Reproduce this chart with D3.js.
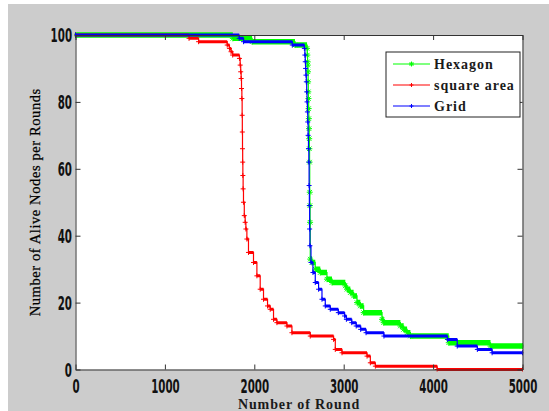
<!DOCTYPE html>
<html>
<head>
<meta charset="utf-8">
<style>
  body { margin: 0; background: #fff; }
  svg { display: block; }
</style>
</head>
<body>
<svg width="549" height="411"></svg>
<script src="https://d3js.org/d3.v7.min.js"></script>
<script>
// ---- data ----
var xTicks = [0, 1000, 2000, 3000, 4000, 5000];
var yTicks = [0, 20, 40, 60, 80, 100];
var seriesNames = ["Hexagon", "square area", "Grid"];

var hexRounds = [0, 1760, 1975, 2455, 2590, 2593, 2596, 2598, 2600, 2602, 2604, 2606, 2608, 2610, 2612, 2614, 2616, 2618, 2620, 2622, 2624, 2626, 2645, 2682, 2738, 2813, 2869, 3018, 3037, 3074, 3111, 3149, 3186, 3223, 3429, 3447, 3634, 3671, 3709, 3746, 4175, 4642, 5000];
var hexAlive  = [100, 99, 98, 97, 96, 94, 92, 91, 89, 86, 83, 81, 78, 75, 72, 69, 66, 62, 53, 49, 44, 33, 32, 30, 29, 27, 26, 25, 24, 23, 22, 20, 19, 17, 15, 14, 13, 12, 11, 10, 8, 7, 7];

var sqRounds = [0, 1270, 1377, 1697, 1722, 1740, 1758, 1834, 1842, 1848, 1853, 1857, 1861, 1864, 1866, 1868, 1870, 1872, 1875, 1879, 1888, 1898, 1906, 1917, 1935, 1991, 2029, 2066, 2103, 2148, 2178, 2215, 2253, 2365, 2421, 2626, 2887, 2906, 2981, 3261, 3298, 3354, 4045, 5000];
var sqAlive  = [100, 99, 98, 97, 96, 95, 94, 93, 91, 89, 87, 84, 81, 76, 71, 66, 62, 58, 54, 50, 46, 44, 42, 39, 35, 32, 28, 24, 21, 19, 18, 15, 14, 13, 11, 10, 9, 6, 5, 4, 2, 1, 0, 0];

var gridRounds = [0, 1831, 1880, 2425, 2560, 2566, 2570, 2574, 2578, 2582, 2586, 2590, 2594, 2598, 2602, 2606, 2610, 2613, 2616, 2619, 2622, 2634, 2656, 2682, 2719, 2757, 2794, 2850, 2940, 3010, 3030, 3090, 3140, 3190, 3250, 3450, 4160, 4270, 4495, 4660, 5000];
var gridAlive  = [100, 99, 98, 97, 96, 94, 92, 90, 88, 86, 83, 80, 77, 74, 70, 66, 62, 55, 49, 42, 37, 32, 29, 26, 24, 21, 19, 18, 17, 16, 15, 14, 13, 12, 11, 10, 9, 7, 6, 5, 5];

var colors = ["#00ff00", "#ff0000", "#0000ff"];

var series = [
  {name: seriesNames[0], rounds: hexRounds, alive: hexAlive, color: colors[0], band: 5.5, marker: "star"},
  {name: seriesNames[1], rounds: sqRounds, alive: sqAlive, color: colors[1], band: 3, marker: "plus"},
  {name: seriesNames[2], rounds: gridRounds, alive: gridAlive, color: colors[2], band: 3, marker: "plus"}
];

var svg = d3.select("svg");
var W = 549, H = 411;
var margin = {left: 75.5, right: 26.5, top: 35, bottom: 41.5};
var pw = W - margin.left - margin.right, ph = H - margin.top - margin.bottom;

// figure background (MATLAB grey)
svg.append("rect").attr("x", 8).attr("y", 4).attr("width", W - 8).attr("height", H - 4).attr("fill", "#cccccc");

var g = svg.append("g").attr("transform", "translate(" + margin.left + "," + margin.top + ")");
g.append("rect").attr("width", pw).attr("height", ph).attr("fill", "#fff");

var x = d3.scaleLinear().domain([0, 5000]).range([0, pw]);
var y = d3.scaleLinear().domain([0, 100]).range([ph, 0]);

function markerPath(type, s) {
  var p = "M" + (-s) + ",0H" + s + "M0," + (-s) + "V" + s;
  if (type === "star") {
    var d = s * 0.75;
    p += "M" + (-d) + "," + (-d) + "L" + d + "," + d + "M" + (-d) + "," + d + "L" + d + "," + (-d);
  }
  return p;
}

g.append("clipPath").attr("id", "clip").append("rect")
  .attr("x", -1).attr("y", -4).attr("width", pw + 2).attr("height", ph + 6);

var plot = g.append("g").attr("clip-path", "url(#clip)");

series.forEach(function(s) {
  var pts = s.rounds.map(function(r, i) { return [r, s.alive[i]]; });
  var sg = plot.append("g");
  // dense markers on plateaus show as a thick band
  var segs = pts.slice(0, -1).map(function(p, i) { return [p, pts[i + 1]]; });
  sg.selectAll("line.band").data(segs).join("line")
    .attr("x1", function(d) { return x(d[0][0]); })
    .attr("x2", function(d) { return x(d[1][0]); })
    .attr("y1", function(d) { return y(d[0][1]); })
    .attr("y2", function(d) { return y(d[0][1]); })
    .attr("stroke", s.color).attr("stroke-width", s.band);
  var line = d3.line().x(function(d) { return x(d[0]); }).y(function(d) { return y(d[1]); }).curve(d3.curveStepAfter);
  sg.append("path").datum(pts).attr("d", line)
    .attr("fill", "none").attr("stroke", s.color).attr("stroke-width", 1.2);
  sg.selectAll("path.mk").data(pts).join("path")
    .attr("transform", function(d) { return "translate(" + x(d[0]) + "," + y(d[1]) + ")"; })
    .attr("d", markerPath(s.marker, s.marker === "star" ? 3 : 2.5))
    .attr("fill", "none").attr("stroke", s.color).attr("stroke-width", 1);
});

// axes with inward ticks on all four sides
var sx = 0.6;
var xAxis = g.append("g").attr("transform", "translate(0," + ph + ")")
  .call(d3.axisBottom(x).tickValues(xTicks).tickSizeInner(-5).tickSizeOuter(0).tickFormat(d3.format("d")));
var yAxis = g.append("g")
  .call(d3.axisLeft(y).tickValues(yTicks).tickSizeInner(-5).tickSizeOuter(0).tickFormat(d3.format("d")));
g.append("g").call(d3.axisTop(x).tickValues(xTicks).tickSizeInner(-5).tickSizeOuter(0).tickFormat(""));
g.append("g").attr("transform", "translate(" + pw + ",0)")
  .call(d3.axisRight(y).tickValues(yTicks).tickSizeInner(-5).tickSizeOuter(0).tickFormat(""));

g.selectAll(".domain").attr("stroke", "#333");
g.selectAll(".tick line").attr("stroke", "#333");

function styleTicks(sel) {
  sel.selectAll("text")
    .attr("font-family", "'Liberation Sans Narrow', 'Arial Narrow', 'DejaVu Sans Condensed', sans-serif")
    .attr("font-weight", "bold").attr("font-size", 19).attr("fill", "#111");
}
styleTicks(xAxis);
styleTicks(yAxis);
xAxis.selectAll("text").attr("y", 24).attr("dy", null).attr("transform", "scale(" + sx + ",1)");
yAxis.selectAll("text").attr("x", -3.5 / sx).attr("dy", "0.36em").attr("transform", "scale(" + sx + ",1)");

// axis titles
svg.append("text")
  .attr("x", margin.left + pw / 2).attr("y", 409)
  .attr("text-anchor", "middle")
  .attr("font-family", "'Liberation Serif', serif").attr("font-weight", "bold")
  .attr("font-size", 14).attr("letter-spacing", 0.9).attr("fill", "#1a1a1a")
  .text("Number of Round");

svg.append("text")
  .attr("transform", "translate(40," + (margin.top + ph / 2) + ") rotate(-90)")
  .attr("text-anchor", "middle")
  .attr("font-family", "'Liberation Serif', serif")
  .attr("font-size", 14.5).attr("letter-spacing", 0.6).attr("fill", "#000")
  .attr("stroke", "#000").attr("stroke-width", 0.25)
  .text("Number of Alive Nodes per Rounds");

// legend
var lg = svg.append("g").attr("transform", "translate(386,52)");
lg.append("rect").attr("width", 134).attr("height", 65).attr("fill", "#fff").attr("stroke", "#222").attr("stroke-width", 1);
var items = lg.selectAll("g.item").data(series).join("g")
  .attr("transform", function(d, i) { return "translate(0," + (12 + i * 21) + ")"; });
items.append("line").attr("x1", 7).attr("x2", 44).attr("stroke", function(d) { return d.color; }).attr("stroke-width", 1.2);
items.append("path").attr("transform", "translate(25.5,0)")
  .attr("d", function(d) { return markerPath(d.marker, d.marker === "star" ? 2.5 : 2); })
  .attr("fill", "none").attr("stroke", function(d) { return d.color; });
items.append("text").attr("x", 48).attr("y", 5)
  .attr("font-family", "'Liberation Serif', serif").attr("font-weight", "bold")
  .attr("font-size", 14).attr("letter-spacing", 1).attr("fill", "#1a1a1a")
  .text(function(d) { return d.name; });
</script>
</body>
</html>
